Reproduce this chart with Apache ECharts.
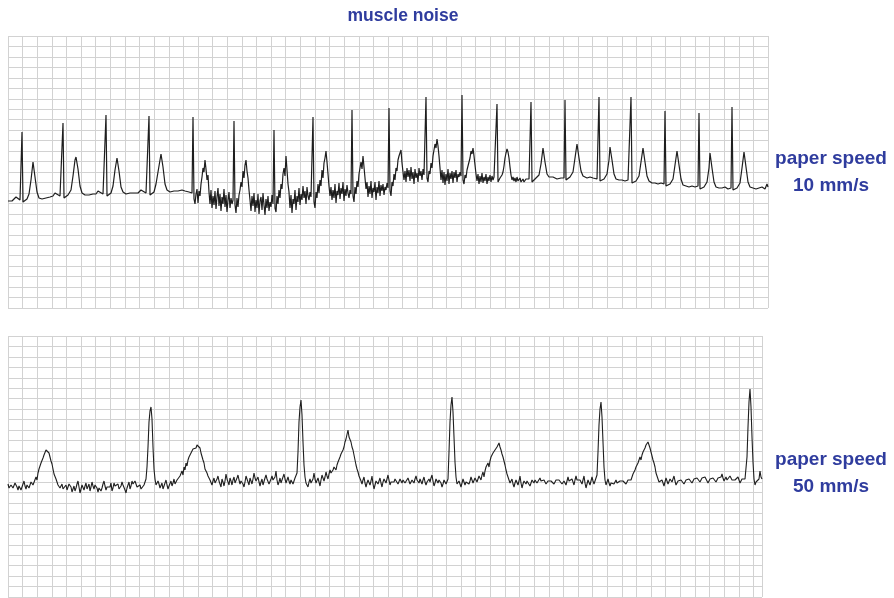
<!DOCTYPE html>
<html>
<head>
<meta charset="utf-8">
<title>muscle noise</title>
<script src="https://cdn.jsdelivr.net/npm/echarts@6/dist/echarts.min.js"></script>
<style>
  html, body { margin: 0; padding: 0; background: #fff; }
  #chart { width: 894px; height: 598px; }
</style>
</head>
<body>
<div id="chart"></div>
<script>
  // 上方：10 mm/s，[樣本點, 振幅]
  const topTrace = [
    [0,107],[2,108],[4,107],[6,109],[8,111],[10,110],[12,108],[13,109],[14,176],[15,106],[16,104],[17,108],[19,109],[21,114],[23,128],[25,146],[27,131],[29,116],[31,110],[34,109],[38,110],[42,111],[45,112],
    [47,115],[49,113],[52,112],[54,113],[55,185],[56,110],[57,108],[58,112],[60,113],[63,118],[65,132],[67,148],[68,151],[70,139],[72,122],[74,115],[77,113],[81,113],[85,114],[88,114],
    [90,117],[92,115],[95,114],[97,115],[98,193],[99,112],[100,110],[101,114],[103,115],[105,122],[107,138],[109,150],[111,137],[113,121],[115,116],[118,114],[122,115],[126,115],[130,115],
    [133,118],[135,116],[138,115],[140,116],[141,192],[142,113],[143,111],[144,115],[146,116],[148,124],[151,142],[153,154],[155,141],[157,124],[159,118],[162,116],[166,117],[170,117],[174,118],[177,117],
    [179,119],[181,116],[183,118],[184,115],[185,191],[186,109],[187,104],[188,114],[189,119],[190,105],[191,117],[192,112],[193,124],[194,131],[195,140],[196,136],[197,148],[198,139],[199,128],[200,133],[201,116],[202,104],[203,118],[204,100],[205,112],[206,103],[207,117],[208,99],[209,111],[210,120],[211,102],[212,114],[213,97],[214,111],[215,104],[216,119],[217,101],[218,113],[219,96],[220,108],[221,116],[222,100],[223,110],[224,104],[225,108],
    [226,187],[227,103],[228,95],[229,110],[230,101],[231,113],[232,118],[233,126],[234,121],[235,137],[236,130],[237,143],[238,148],[239,137],[240,130],[241,118],[242,108],[243,97],[244,112],[245,102],[246,115],[247,96],[248,108],[249,100],[250,114],[251,94],[252,107],[253,111],[254,98],[255,115],[256,103],[257,93],[258,109],[259,100],[260,112],[261,97],[262,106],[263,101],[264,113],[265,104],
    [266,178],[267,100],[268,96],[269,112],[270,104],[271,118],[272,110],[273,124],[274,119],[275,134],[276,140],[277,132],[278,152],[279,138],[280,124],[281,116],[282,100],[283,113],[284,95],[285,109],[286,104],[287,118],[288,98],[289,112],[290,106],[291,120],[292,103],[293,114],[294,108],[295,122],[296,110],[297,117],[298,104],[299,121],[300,112],[301,108],[302,116],[303,111],[304,113],
    [305,191],[306,106],[307,100],[308,116],[309,110],[310,124],[311,115],[312,128],[313,122],[314,138],[315,130],[316,145],[317,150],[318,157],[319,146],[320,134],[321,122],[322,112],[323,121],[324,108],[325,118],[326,110],[327,124],[328,105],[329,117],[330,113],[331,125],[332,109],[333,120],[334,114],[335,126],[336,107],[337,119],[338,112],[339,123],[340,115],[341,110],[342,118],[343,114],
    [344,198],[345,112],[346,106],[347,121],[348,114],[349,127],[350,121],[351,134],[352,140],[353,146],[354,139],[355,152],[356,141],[357,130],[358,119],[359,126],[360,111],[361,122],[362,114],[363,127],[364,110],[365,120],[366,116],[367,126],[368,108],[369,121],[370,115],[371,127],[372,112],[373,123],[374,117],[375,124],[376,113],[377,121],[378,118],[379,125],[380,120],
    [381,200],[382,117],[383,112],[384,126],[385,122],[386,134],[387,128],[388,140],[389,137],[390,148],[391,152],[392,150],[393,158],[394,145],[395,136],[396,128],[397,137],[398,126],[399,140],[400,131],[401,138],[402,127],[403,141],[404,129],[405,136],[406,124],[407,139],[408,130],[409,135],[410,126],[411,140],[412,132],[413,137],[414,128],[415,139],[416,133],[417,135],
    [418,211],[419,130],[420,126],[421,137],[422,134],[423,145],[424,140],[425,152],[426,158],[427,164],[428,160],[429,169],[430,162],[431,152],[432,140],[433,128],[434,138],[435,125],[436,136],[437,123],[438,134],[439,127],[440,139],[441,124],[442,135],[443,129],[444,137],[445,125],[446,136],[447,130],[448,138],[449,126],[450,134],[451,131],[452,136],[453,132],
    [454,213],[455,128],[456,124],[457,133],[458,130],[459,138],[460,136],[461,146],[462,150],[463,157],[464,154],[465,160],[466,152],[467,143],[468,134],[469,127],[470,134],[471,124],[472,132],[473,126],[474,135],[475,125],[476,131],[477,127],[478,134],[479,124],[480,131],[481,127],[482,133],[483,126],[484,132],[485,128],[486,131],[487,129],[488,130],
    [489,204],[490,126],[491,124],[492,130],[493,128],[494,133],[495,136],[496,142],[497,150],[498,155],[499,159],[500,156],[501,150],[502,141],[503,133],[504,128],[505,131],[506,127],[507,130],[508,126],[509,131],[510,127],[512,130],[513,126],[515,129],[516,126],[518,129],[519,127],[521,129],[522,128],
    [523,206],[524,126],[525,124],[526,128],[528,130],[529,129],[531,133],[533,144],[535,160],[537,146],[539,134],[541,131],[543,130],[545,131],[547,130],[549,129],[551,131],[553,130],[555,131],[556,130],
    [557,208],[558,128],[559,126],[560,130],[562,131],[565,136],[567,150],[569,164],[571,150],[573,137],[575,132],[577,131],[579,130],[582,131],[585,130],[587,130],[589,129],[590,130],
    [591,211],[592,127],[593,125],[594,128],[596,129],[599,134],[601,148],[602,161],[604,148],[606,134],[608,129],[611,128],[614,128],[617,127],[620,128],[622,127],
    [623,211],[624,125],[625,123],[626,126],[628,127],[631,132],[633,146],[635,160],[637,146],[639,132],[641,127],[644,125],[647,125],[650,124],[653,125],[656,124],
    [657,197],[658,122],[659,120],[660,123],[662,124],[665,129],[667,143],[669,157],[671,143],[673,129],[675,123],[678,122],[681,121],[684,122],[687,121],[690,122],
    [691,195],[692,119],[693,117],[694,120],[696,121],[699,126],[701,140],[702,155],[704,140],[706,126],[708,121],[711,120],[714,120],[717,121],[720,119],[723,120],
    [724,201],[725,118],[726,116],[727,119],[729,120],[732,125],[734,140],[736,156],[738,141],[740,126],[742,121],[745,120],[748,119],[751,120],[754,121],[757,119],[759,124],[760,121]
  ];

  // 下方：50 mm/s
  const bottomTrace = [
    [0,113],[1,109],[2,108],[3,112],[4,114],[5,109],[6,110],[7,114],[8,115],[9,110],[10,107],[11,111],[12,112],[13,107],[14,109],[15,113],[16,116],[17,111],[18,108],[19,112],[20,114],[21,109],[22,111],[23,115],[24,117],[25,112],[26,113],
    [28,120],[29,117],[30,124],[31,128],[32,126],[33,134],[35,139],[36,142],[37,140],[38,147],[39,149],[40,146],[41,144],[42,140],[43,136],[44,133],[45,128],[46,123],[47,125],[48,118],[49,115],[50,112],[51,114],[52,109],
    [53,111],[54,113],[55,108],[56,106],[57,110],[58,112],[59,107],[60,108],[61,113],[62,115],[63,110],[64,105],[65,108],[66,111],[67,106],[68,109],[69,113],[70,116],[71,110],[72,104],[73,108],[74,112],[75,110],[76,107],[77,111],[78,114],[79,108],[80,110],[81,113],[82,106],[83,110],[84,115],[85,111],[86,108],[87,112],[88,113],[89,109],[90,105],[91,109],[92,111],[93,106],[94,109],[95,113],[96,116],[97,111],[98,107],[99,110],[100,112],[101,108],[102,110],[103,114],[104,106],[105,109],[106,114],[107,111],[108,109],[109,113],[110,113],[111,108],[112,107],[113,111],[114,115],[115,112],[116,110],[117,107],[118,104],[119,109],[120,112],[121,115],[122,108],[123,111],[124,116],[125,113],[126,111],[127,116],[128,114],[129,110],[130,108],[131,111],[132,112],[133,108],[134,110],
    [136,112],[137,114],[138,118],[139,130],[140,150],[141,175],[142,186],[143,190],[144,178],[145,150],[146,128],[147,118],[148,112],[149,110],[150,116],[151,113],[152,109],[153,111],[154,114],[155,108],[156,110],[157,114],[158,117],[159,112],[160,108],[161,111],[162,113],[163,116],[164,111],[165,114],[166,118],[167,113],[168,112],[169,117],[170,116],[171,119],[172,121],
    [174,126],[175,122],[176,130],[177,127],[178,134],[179,131],[180,137],[181,140],[182,138],[183,144],[184,143],[185,148],[186,146],[187,150],[188,149],[189,152],[190,154],[191,151],[192,149],[193,144],[194,142],[195,137],[196,134],[197,128],[198,126],[199,124],[200,121],[201,119],[202,117],
    [203,115],[204,112],[205,116],[206,119],[207,114],[208,113],[209,118],[210,121],[211,116],[212,114],[213,110],[214,118],[215,115],[216,111],[217,116],[218,123],[219,118],[220,115],[221,112],[222,119],[223,116],[224,112],[225,117],[226,120],[227,114],[228,116],[229,119],[230,122],[231,117],[232,113],[233,116],[234,118],[235,113],[236,110],[237,115],[238,121],[239,118],[240,115],[241,112],[242,119],[243,116],[244,113],[245,118],[246,124],[247,119],[248,116],[249,114],[250,120],[251,115],[252,111],[253,115],[254,118],[255,112],[256,114],[257,119],[258,122],[259,118],[260,117],[261,113],[262,113],[263,118],[264,121],[265,117],[266,115],[267,120],[268,126],[269,117],[270,112],[271,115],[272,119],[273,114],[274,116],[275,120],[276,123],[277,118],[278,114],[279,117],[280,120],[281,116],[282,113],[283,117],[284,118],[285,113],[286,115],[287,119],[288,121],
    [289,124],[290,145],[291,175],[292,190],[293,197],[294,182],[295,155],[296,132],[297,120],[298,114],[299,112],[300,110],[301,115],[302,118],[303,114],[304,112],[305,118],[306,124],[307,118],[308,114],[309,116],[310,119],[311,115],[312,111],[313,117],[314,122],[315,119],[316,116],[317,120],[318,125],[319,121],[320,118],
    [321,123],[322,127],[323,124],[324,122],[325,127],[326,130],[327,129],[328,127],[329,132],[330,135],[331,137],[332,140],[333,143],[334,145],[335,147],[336,150],[337,155],[338,158],[339,160],[340,167],[341,160],[342,158],[343,155],[344,150],[345,147],[346,142],[347,137],[348,132],[349,128],[350,125],[351,121],[352,119],[353,116],[354,113],
    [355,117],[356,120],[357,114],[358,110],[359,114],[360,117],[361,115],[362,112],[363,116],[364,121],[365,113],[366,108],[367,112],[368,116],[369,118],[370,113],[371,116],[372,119],[373,114],[374,110],[375,115],[376,118],[377,116],[378,114],[379,118],[380,122],[381,117],[382,112],[383,115],[384,117],[385,113],[386,115],[387,118],[388,120],[389,116],[390,113],[391,115],[392,118],[393,116],[394,114],[395,117],[396,116],[397,114],[398,112],[399,116],[400,119],[401,116],[402,113],[403,115],[404,117],[405,115],[406,114],[407,118],[408,121],[409,117],[410,115],[411,114],[412,118],[413,116],[414,113],[415,117],[416,120],[417,115],[418,112],[419,115],[420,117],[421,118],[422,115],[423,119],[424,122],[425,116],[426,111],[427,114],[428,118],[429,116],[430,114],[431,117],[432,119],[433,114],[434,110],[435,113],[436,117],[437,115],[438,113],
    [439,115],[440,118],[441,145],[442,175],[443,192],[444,200],[445,185],[446,160],[447,135],[448,120],[449,113],[450,112],[451,116],[452,114],[453,110],[454,114],[455,118],[456,115],[457,112],[458,115],[459,117],[460,114],[461,113],[462,116],[463,120],[464,117],[465,114],[466,116],[467,119],[468,117],[469,115],[470,118],[471,121],[472,119],[473,117],
    [474,122],[475,125],[476,120],[477,126],[478,130],[479,132],[480,134],[481,130],[482,136],[483,140],[484,142],[485,144],[486,145],[487,147],[488,148],[489,150],[490,152],[491,154],[492,150],[493,147],[494,143],[495,140],[496,136],[497,132],[498,127],[499,123],[500,120],[501,117],[502,114],
    [503,116],[504,118],[505,113],[506,110],[507,114],[508,117],[509,115],[510,112],[511,116],[512,121],[513,114],[514,109],[515,113],[516,116],[517,114],[518,113],[519,116],[520,118],[521,114],[522,111],[523,114],[524,117],[525,116],[526,114],[527,117],[528,116],[529,114],[530,112],[531,116],[532,119],[533,116],[534,114],[535,116],[536,117],[537,115],[538,113],[539,115],[540,116],[541,115],[542,114],[543,116],[544,118],[545,115],[546,113],[547,115],[548,117],[549,116],[550,115],[551,117],[552,119],[553,116],[554,113],[555,115],[556,116],[557,114],[558,112],[559,116],[560,120],[561,116],[562,114],[563,116],[564,118],[565,115],[566,112],[567,117],[568,121],[569,117],[570,115],[571,116],[572,117],[573,115],[574,113],[575,117],[576,121],[577,114],[578,109],[579,113],[580,117],[581,115],[582,112],[583,116],[584,120],[585,116],[586,113],[587,116],[588,119],
    [589,122],[590,145],[591,172],[592,188],[593,195],[594,180],[595,155],[596,130],[597,117],[598,112],[599,115],[600,118],[601,114],[602,111],[603,114],[604,116],[605,115],[606,113],[607,115],[608,117],[609,114],[610,112],[611,114],[612,116],[613,115],[614,114],[615,116],[616,118],[617,115],[618,113],[619,115],[620,117],[621,116],[622,115],[623,117],[624,119],
    [625,123],[626,121],[627,127],[628,130],[629,131],[630,134],[631,137],[632,140],[633,137],[634,142],[635,145],[636,147],[637,149],[638,152],[639,153],[640,155],[641,152],[642,149],[643,145],[644,141],[645,137],[646,134],[647,130],[648,124],[649,121],[650,118],[651,115],[652,113],
    [653,115],[654,117],[655,114],[656,111],[657,115],[658,119],[659,116],[660,113],[661,115],[662,118],[663,116],[664,115],[665,118],[666,121],[667,116],[668,112],[669,114],[670,116],[671,115],[672,114],[673,117],[674,119],[675,116],[676,113],[677,115],[678,117],[679,116],[680,115],[681,118],[682,120],[683,117],[684,114],[685,116],[686,118],[687,117],[688,116],[689,119],[690,121],[691,118],[692,115],[693,117],[694,119],[695,118],[696,117],[697,120],[698,122],[699,118],[700,114],[701,116],[702,118],[703,117],[704,116],[705,119],[706,121],[707,118],[708,115],[709,117],[710,119],[711,118],[712,117],[713,120],[714,123],[715,119],[716,116],[717,118],[718,120],[719,117],[720,115],[721,118],[722,121],[723,119],[724,117],[725,118],[726,119],[727,117],[728,116],[729,118],[730,120],[731,117],[732,114],[733,116],[734,118],
    [735,117],[736,116],[737,118],[738,120],[739,140],[740,170],[741,195],[742,208],[743,190],[744,160],[745,135],[746,118],[747,112],[748,115],[749,117],[750,113],[751,118],[752,126],[753,120],[754,118]
  ];

  const topLabels = ['paper speed', '10 mm/s'];
  const bottomLabels = ['paper speed', '50 mm/s'];

  const gridColor = '#d2d2d2';
  const blue = '#2f3c9e';
  const hidden = { axisLine: { show: false }, axisTick: { show: false }, axisLabel: { show: false } };

  // 樣本軸（畫曲線用，不畫格線）
  function dataAxis(idx, max) {
    return Object.assign({ gridIndex: idx, type: 'value', min: 0, max: max, splitLine: { show: false } }, hidden);
  }
  // 格線軸（每格 1 單位）
  function boxAxis(idx, max) {
    return Object.assign({
      gridIndex: idx, type: 'value', min: 0, max: max, interval: 1,
      splitLine: { show: true, lineStyle: { color: gridColor, width: 1 } }
    }, hidden);
  }
  function traceSeries(idx, data, width) {
    return {
      type: 'line', xAxisIndex: idx, yAxisIndex: idx, data: data,
      symbol: 'none', smooth: false, animation: false, z: 3,
      lineStyle: { color: '#1e1e1e', width: width }
    };
  }
  function sideLabel(lines, y) {
    return {
      type: 'text', x: 831, y: y,
      style: {
        text: lines.join('\n'), fill: blue, align: 'center',
        font: 'bold 19px "Liberation Sans", Arial, sans-serif', lineHeight: 27
      }
    };
  }

  const chart = echarts.init(document.getElementById('chart'));
  chart.setOption({
    animation: false,
    grid: [
      { left: 8, top: 36, width: 760, height: 272 },
      { left: 8, top: 336, width: 754, height: 261 }
    ],
    xAxis: [dataAxis(0, 760), dataAxis(1, 754), boxAxis(0, 52), boxAxis(1, 754 / (760 / 52))],
    yAxis: [dataAxis(0, 272), dataAxis(1, 261), boxAxis(0, 26), boxAxis(1, 25)],
    series: [traceSeries(0, topTrace, 1.2), traceSeries(1, bottomTrace, 1.1)],
    graphic: [
      {
        type: 'text', x: 403, y: 7,
        style: { text: 'muscle noise', fill: blue, align: 'center', font: 'bold 17.5px "Liberation Sans", Arial, sans-serif' }
      },
      sideLabel(topLabels, 145),
      sideLabel(bottomLabels, 446)
    ]
  });
</script>
</body>
</html>
